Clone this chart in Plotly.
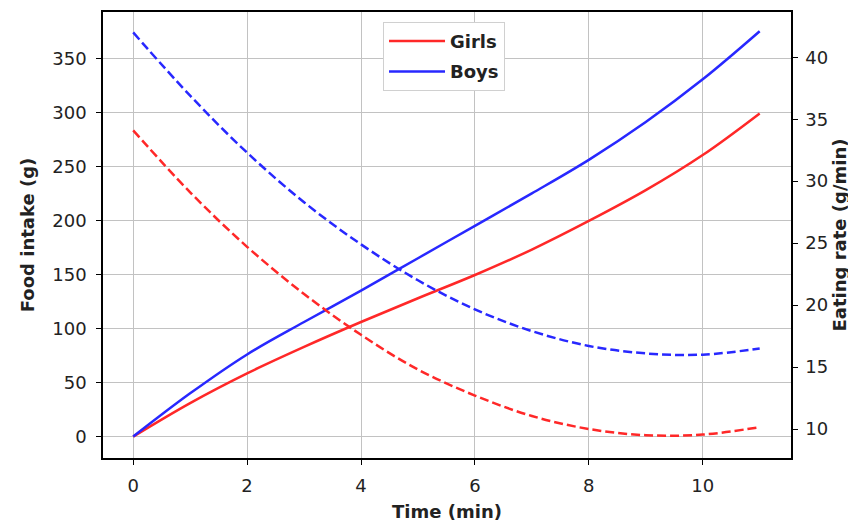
import plotly.graph_objects as go

# Data
time_min = [0, 1, 2, 3, 4, 5, 6, 7, 8, 9, 10, 11]
girls_intake = [0, 31, 58.5, 83, 106, 128, 149.5, 173, 199.5, 228, 260.5, 299]
boys_intake = [0, 40, 76, 106, 135, 165, 195, 225, 256, 291, 330.5, 375]
girls_rate = [34.1, 29.1, 24.7, 20.9, 17.6, 14.8, 12.7, 11.05, 10.0, 9.5, 9.55, 10.15]
boys_rate = [42.0, 36.9, 32.3, 28.3, 24.9, 22.0, 19.65, 17.9, 16.7, 16.1, 16.0, 16.5]

x_ticks = [0, 2, 4, 6, 8, 10]
left_ticks = [0, 50, 100, 150, 200, 250, 300, 350]
right_ticks = [10, 15, 20, 25, 30, 35, 40]

RED = "rgb(255,40,40)"
BLUE = "rgb(40,40,255)"
FONT = "DejaVu Sans"
TXT = "#222222"
FS = 18
GRID = "#c2c2c2"

fig = go.Figure()
fig.add_trace(go.Scatter(x=time_min, y=girls_intake, mode="lines", name="Girls",
                         line=dict(color=RED, width=2.5, shape="spline"),
                         legendgroup="g", yaxis="y"))
fig.add_trace(go.Scatter(x=time_min, y=boys_intake, mode="lines", name="Boys",
                         line=dict(color=BLUE, width=2.5, shape="spline"),
                         legendgroup="b", yaxis="y"))
fig.add_trace(go.Scatter(x=time_min, y=girls_rate, mode="lines", name="Girls rate",
                         line=dict(color=RED, width=2.5, shape="spline", dash="9px,4px"),
                         showlegend=False, yaxis="y2"))
fig.add_trace(go.Scatter(x=time_min, y=boys_rate, mode="lines", name="Boys rate",
                         line=dict(color=BLUE, width=2.5, shape="spline", dash="9px,4px"),
                         showlegend=False, yaxis="y2"))

axis_common = dict(
    showline=True, linecolor="black", linewidth=1.5,
    ticks="outside", ticklen=5, tickwidth=1.2, tickcolor="black",
    tickfont=dict(family=FONT, size=FS, color=TXT),
    zeroline=False, automargin=False,
)
title_font = dict(family=FONT, size=FS, color=TXT, weight="bold")

# page body has an 8px margin, so the figure is offset by 8px
fig.update_layout(
    width=848, height=516,
    margin=dict(l=95, r=65, t=4, b=66),
    paper_bgcolor="white", plot_bgcolor="white",
    showlegend=True,
    legend=dict(x=0.407, xanchor="left", y=0.978, yanchor="top",
                bgcolor="white", bordercolor="#d0d0d0", borderwidth=1,
                font=dict(family=FONT, size=FS, color=TXT, weight="bold"),
                traceorder="grouped", tracegroupgap=4,
                itemwidth=56),
    xaxis=dict(range=[-0.53, 11.55], tickvals=x_ticks, ticktext=[str(v) for v in x_ticks],
               mirror=True, showgrid=True, gridcolor=GRID, gridwidth=1.3,
               title=dict(text="Time (min)", font=title_font, standoff=10),
               ticklabelstandoff=6,
               **axis_common),
    yaxis=dict(range=[-19.8, 392.8], tickvals=left_ticks, ticktext=[str(v) for v in left_ticks],
               mirror=True, showgrid=True, gridcolor=GRID, gridwidth=1.3,
               title=dict(text="Food intake (g)", font=title_font, standoff=13),
               ticklabelstandoff=6,
               **axis_common),
    yaxis2=dict(range=[7.66, 43.65], tickvals=right_ticks, ticktext=[str(v) for v in right_ticks],
                overlaying="y", side="right", showgrid=False,
                title=dict(text="Eating rate (g/min)", font=title_font, standoff=6),
                ticklabelstandoff=4,
                **axis_common),
)

fig.write_html("out.html")
